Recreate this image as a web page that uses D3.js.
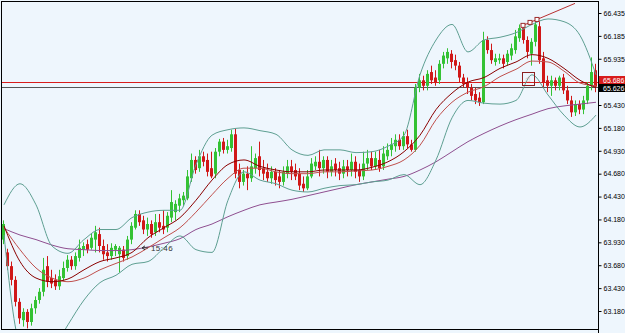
<!DOCTYPE html>
<html>
<head>
<meta charset="utf-8">
<script src="https://cdn.jsdelivr.net/npm/d3@7"></script>
<style>
  html, body { margin: 0; padding: 0; background: #fff; }
  svg { display: block; font-family: "Liberation Sans", Arial, sans-serif; }
</style>
</head>
<body>
<svg id="chart" width="625" height="333"></svg>
<script>
// candles, oldest first: [open, high, low, close]
const bars = [
  [63.96,64.17,63.91,64.13],[63.82,63.86,63.63,63.67],[63.67,63.72,63.46,63.52],[63.52,63.56,63.23,63.28],
  [63.28,63.32,63.04,63.10],[63.08,63.21,63.01,63.17],[63.17,63.20,62.99,63.06],[63.06,63.26,63.02,63.21],
  [63.21,63.34,63.15,63.30],[63.30,63.43,63.26,63.39],[63.39,63.76,63.34,63.63],[63.67,63.78,63.44,63.50],
  [63.54,63.63,63.43,63.48],[63.52,63.58,63.41,63.45],[63.45,63.63,63.41,63.56],[63.54,63.72,63.51,63.65],
  [63.65,63.79,63.61,63.74],[63.74,63.78,63.63,63.67],[63.67,63.82,63.63,63.78],[63.76,63.96,63.72,63.87],
  [63.85,63.93,63.78,63.89],[63.91,63.96,63.81,63.85],[63.87,64.03,63.85,63.98],[63.96,64.11,63.82,64.04],
  [64.02,64.09,63.82,63.89],[63.89,63.96,63.74,63.80],[63.82,63.91,63.72,63.78],[63.78,63.92,63.74,63.87],
  [63.85,63.91,63.78,63.89],[63.80,63.89,63.60,63.87],[63.85,63.89,63.72,63.76],[63.78,64.00,63.74,63.96],
  [63.96,64.15,63.91,64.11],[64.09,64.28,64.07,64.24],[64.24,64.28,64.11,64.15],[64.17,64.22,64.02,64.07],
  [64.07,64.20,64.00,64.13],[64.13,64.17,63.98,64.02],[64.04,64.24,64.00,64.15],[64.15,64.24,64.04,64.09],
  [64.11,64.28,64.02,64.07],[64.09,64.26,64.04,64.22],[64.20,64.50,64.15,64.37],[64.26,64.39,64.17,64.35],
  [64.33,64.46,64.26,64.41],[64.39,64.48,64.33,64.44],[64.41,64.72,64.39,64.65],[64.63,64.90,64.59,64.83],
  [64.83,64.87,64.68,64.72],[64.74,64.94,64.70,64.87],[64.87,64.92,64.76,64.81],[64.83,64.90,64.65,64.70],
  [64.74,64.92,64.63,64.65],[64.68,64.96,64.63,64.92],[64.92,65.06,64.87,65.03],[65.03,65.07,64.90,64.94],
  [64.94,65.05,64.90,64.98],[64.96,65.16,64.92,65.11],[65.11,65.17,64.63,64.68],[64.72,64.79,64.52,64.59],
  [64.59,64.72,64.55,64.68],[64.68,64.76,64.50,64.63],[64.63,64.98,64.59,64.76],[64.74,64.90,64.68,64.85],
  [64.87,65.03,64.65,64.72],[64.74,64.83,64.61,64.68],[64.70,64.79,64.59,64.63],[64.63,64.76,64.57,64.70],
  [64.70,64.74,64.55,64.61],[64.65,64.72,64.52,64.59],[64.59,64.76,64.55,64.70],[64.68,64.83,64.63,64.76],
  [64.76,64.83,64.61,64.70],[64.72,64.79,64.61,64.65],[64.68,64.74,64.50,64.55],[64.57,64.65,64.48,64.52],
  [64.52,64.72,64.50,64.65],[64.65,64.85,64.63,64.79],[64.76,64.87,64.72,64.81],[64.81,64.94,64.65,64.74],
  [64.74,64.87,64.68,64.83],[64.83,64.87,64.63,64.70],[64.70,64.83,64.65,64.76],[64.79,64.85,64.65,64.72],
  [64.74,64.81,64.61,64.68],[64.68,64.83,64.63,64.76],[64.76,64.83,64.65,64.72],[64.72,64.90,64.65,64.81],
  [64.81,64.87,64.63,64.70],[64.72,64.79,64.59,64.65],[64.65,64.92,64.61,64.79],[64.79,64.94,64.72,64.85],
  [64.85,64.92,64.72,64.76],[64.76,64.92,64.72,64.85],[64.83,64.94,64.70,64.74],[64.76,64.98,64.72,64.90],
  [64.87,65.01,64.83,64.94],[64.94,65.07,64.87,65.00],[64.98,65.11,64.92,65.05],[65.05,65.11,64.94,64.98],
  [64.98,65.14,64.94,65.09],[65.09,65.16,64.96,65.00],[65.00,65.05,64.92,64.94],[64.94,65.66,64.92,65.62],
  [65.62,65.77,65.57,65.70],[65.70,65.75,65.59,65.64],[65.64,65.81,65.59,65.77],[65.79,65.86,65.66,65.70],
  [65.73,65.81,65.64,65.68],[65.70,65.92,65.66,65.88],[65.88,66.01,65.83,65.97],[65.94,66.05,65.88,66.01],
  [65.99,66.03,65.83,65.90],[65.92,65.98,65.81,65.86],[65.86,65.90,65.68,65.73],[65.73,65.77,65.62,65.66],
  [65.68,65.73,65.55,65.62],[65.62,65.66,65.48,65.53],[65.55,65.62,65.44,65.48],[65.51,65.57,65.42,65.46],
  [65.46,66.23,65.44,66.14],[66.14,66.18,65.99,66.03],[66.03,66.10,65.88,65.92],[65.90,65.99,65.86,65.94],
  [65.92,65.99,65.88,65.94],[65.94,65.98,65.83,65.88],[65.90,66.03,65.86,65.99],[65.97,66.10,65.92,66.05],
  [66.03,66.25,65.99,66.18],[66.16,66.31,66.12,66.27],[66.27,66.29,66.10,66.14],[66.14,66.18,65.94,66.01],
  [65.99,66.16,65.86,66.12],[66.12,66.36,66.07,66.31],[66.29,66.34,65.88,65.92],[65.94,66.01,65.62,65.68],
  [65.70,65.75,65.57,65.64],[65.64,65.75,65.53,65.70],[65.70,65.73,65.59,65.64],[65.64,65.75,65.59,65.73],
  [65.73,65.77,65.55,65.59],[65.59,65.64,65.44,65.48],[65.48,65.53,65.30,65.35],[65.35,65.48,65.31,65.44],
  [65.44,65.48,65.33,65.38],[65.38,65.53,65.33,65.48],[65.48,65.68,65.44,65.64],[65.64,65.95,65.59,65.79],
  [65.81,65.88,65.57,65.63]
];

// indicator values every 4th bar (bar 0, 4, 8 ... 148)
const sampleStep = 4;
const bandUpper = [64.34,64.57,64.34,63.89,63.81,63.96,64.07,64.07,64.20,64.26,64.28,64.28,64.78,65.10,65.16,65.18,
  65.15,65.11,64.94,64.88,64.94,64.94,64.91,64.92,64.98,65.10,65.76,66.14,66.31,66.01,66.14,66.17,66.22,66.31,66.37,
  66.34,66.19,65.76];
const bandLower = [64.01,62.81,62.64,62.75,63.03,63.30,63.49,63.57,63.69,63.72,63.87,64.00,63.85,63.82,64.39,64.70,
  64.61,64.57,64.50,64.48,64.52,64.55,64.56,64.59,64.61,64.67,64.56,64.83,65.29,65.48,65.45,65.44,65.48,65.76,65.54,
  65.32,65.19,65.32];
const maFast = [64.11,63.72,63.54,63.50,63.53,63.63,63.72,63.76,63.82,63.98,64.09,64.20,64.39,64.61,64.78,64.83,
  64.76,64.72,64.70,64.70,64.72,64.72,64.72,64.75,64.81,64.92,65.10,65.38,65.56,65.68,65.73,65.83,65.90,65.98,65.94,
  65.83,65.70,65.62];
const maSlow = [64.09,63.85,63.65,63.54,63.50,63.54,63.63,63.70,63.77,63.87,63.98,64.09,64.26,64.45,64.63,64.74,
  64.74,64.70,64.68,64.68,64.70,64.70,64.71,64.72,64.76,64.83,64.99,65.27,65.46,65.57,65.63,65.74,65.82,65.91,65.90,
  65.80,65.67,65.64];
const maLong = [64.08,64.01,63.96,63.90,63.86,63.85,63.84,63.84,63.85,63.88,63.92,63.97,64.07,64.13,64.21,64.28,
  64.34,64.37,64.40,64.44,64.48,64.52,64.56,64.59,64.62,64.65,64.72,64.81,64.92,65.03,65.12,65.20,65.27,65.33,65.39,
  65.42,65.44,65.46];

// right axis labels
const priceTicks = [66.435,66.185,65.935,65.430,65.180,64.930,64.680,64.430,64.180,63.930,63.680,63.430,63.180];
const askPrice = 65.686;
const bidPrice = 65.626;

// chart objects: trend line through the last highs, a time label and a signal box
const trendAnchors = [[129.75, 66.30], [142.75, 66.54]];
const trendMarks = [129.75, 131.5, 133.25];
const timeMark = { bar: 35, price: 63.87, text: '15:46' };
const signalBox = { bar: 131, price: 65.72 };

const colors = {
  bg: '#eef6fd', up: '#34c234', down: '#d01818', band: '#5e9f92',
  fast: '#8b0000', slow: '#c0504d', long: '#8f4f90', ask: '#d81c1c', bid: '#555'
};

const W = 625, H = 333;
const plot = { left: 1, top: 2, right: 598, bottom: 329 };

const svg = d3.select('#chart');
svg.append('rect').attr('width', W).attr('height', H).attr('fill', colors.bg);

// scales: one band per bar, price scale fixed by the axis labels
const x = d3.scaleBand().domain(d3.range(bars.length)).range([plot.left + 1, plot.right]).padding(0);
const step = x.step();
const xMid = i => x.range()[0] + (i + 0.5) * step;
const y = d3.scaleLinear().domain([63.18, 66.435]).range([311, 13]);

svg.append('clipPath').attr('id', 'plotClip')
  .append('rect')
    .attr('x', plot.left).attr('y', plot.top)
    .attr('width', plot.right - plot.left).attr('height', plot.bottom - plot.top);

const g = svg.append('g').attr('clip-path', 'url(#plotClip)');

// current price lines
g.append('line')
  .attr('x1', plot.left).attr('x2', plot.right)
  .attr('y1', Math.round(y(askPrice)) + 0.5).attr('y2', Math.round(y(askPrice)) + 0.5)
  .attr('stroke', colors.ask);
g.append('line')
  .attr('x1', plot.left).attr('x2', plot.right)
  .attr('y1', Math.round(y(bidPrice)) + 0.5).attr('y2', Math.round(y(bidPrice)) + 0.5)
  .attr('stroke', colors.bid);

// candles
const candle = g.selectAll('.candle').data(bars).enter().append('g')
  .attr('class', 'candle')
  .attr('fill', d => d[3] >= d[0] ? colors.up : colors.down)
  .attr('stroke', d => d[3] >= d[0] ? colors.up : colors.down);

candle.append('line')
  .attr('x1', (d, i) => Math.floor(x(i)) + 1.5).attr('x2', (d, i) => Math.floor(x(i)) + 1.5)
  .attr('y1', d => y(d[1])).attr('y2', d => y(d[2]));

candle.append('rect')
  .attr('stroke', 'none')
  .attr('x', (d, i) => Math.floor(x(i)))
  .attr('width', 3)
  .attr('y', d => y(Math.max(d[0], d[3])))
  .attr('height', d => Math.max(1, Math.abs(y(d[0]) - y(d[3]))));

// indicator lines
const line = d3.line()
  .x((d, k) => xMid(k * sampleStep))
  .y(d => y(d))
  .curve(d3.curveMonotoneX);

[[maLong, colors.long], [bandUpper, colors.band], [bandLower, colors.band],
 [maSlow, colors.slow], [maFast, colors.fast]].forEach(([values, color]) => {
  g.append('path')
    .attr('d', line(values))
    .attr('fill', 'none')
    .attr('stroke', color)
    .attr('stroke-width', 1);
});

// trend line and its anchor marks
g.append('line')
  .attr('x1', xMid(trendAnchors[0][0])).attr('y1', y(trendAnchors[0][1]))
  .attr('x2', xMid(trendAnchors[1][0])).attr('y2', y(trendAnchors[1][1]))
  .attr('stroke', '#b83030');

const trendAt = i => trendAnchors[0][1] +
  (i - trendAnchors[0][0]) * (trendAnchors[1][1] - trendAnchors[0][1]) / (trendAnchors[1][0] - trendAnchors[0][0]);

g.selectAll('.mark').data(trendMarks).enter().append('rect')
  .attr('class', 'mark')
  .attr('x', d => xMid(d) - 2).attr('y', d => y(trendAt(d)) - 2)
  .attr('width', 4).attr('height', 4)
  .attr('fill', '#fff').attr('stroke', '#9b2a2a');

// signal box
const bx = xMid(signalBox.bar), by = y(signalBox.price);
g.append('rect')
  .attr('x', Math.round(bx - 6) + 0.5).attr('y', Math.round(by - 6) + 0.5)
  .attr('width', 12).attr('height', 13)
  .attr('fill', 'none').attr('stroke', '#8b2020');
g.append('text')
  .attr('x', bx).attr('y', by + 4)
  .attr('text-anchor', 'middle')
  .attr('font-family', 'DejaVu Sans')
  .attr('font-size', 9)
  .attr('fill', '#e88080')
  .text('\u261D');

// time label with left arrow
const tx = x(timeMark.bar), ty = y(timeMark.price);
g.append('path')
  .attr('d', `M${tx},${ty} l3,-2 M${tx},${ty} l3,2 M${tx},${ty} h6`)
  .attr('stroke', '#333').attr('fill', 'none');
g.append('text')
  .attr('x', tx + 9).attr('y', ty + 3)
  .attr('font-size', 8)
  .attr('fill', '#333')
  .attr('letter-spacing', 0.4)
  .text(timeMark.text);

// frame
svg.append('rect')
  .attr('x', plot.left + 0.5).attr('y', plot.top - 0.5)
  .attr('width', plot.right - plot.left).attr('height', plot.bottom - plot.top + 1)
  .attr('fill', 'none').attr('stroke', '#000');

// right price axis
const axis = svg.append('g')
  .attr('transform', `translate(${plot.right + 0.5},0)`)
  .call(d3.axisRight(y).tickValues(priceTicks).tickFormat(d3.format('.3f')).tickSize(3).tickPadding(2));
axis.select('.domain').remove();
axis.selectAll('.tick text').attr('font-size', 7).attr('font-family', '"Liberation Sans", Arial, sans-serif').attr('fill', '#000');
axis.selectAll('.tick line').attr('stroke', '#000');
svg.append('line')
  .attr('x1', plot.right + 0.5).attr('x2', plot.right + 0.5)
  .attr('y1', plot.top - 1).attr('y2', H)
  .attr('stroke', '#000');

// price tags on the axis: ask tag sits just above the bid tag, as the terminal stacks them
const askTop = Math.round(y(askPrice)) - 6;
const bidTop = Math.max(askTop + 8, Math.round(y(bidPrice)) - 4);
[[askPrice, colors.ask, askTop], [bidPrice, '#000', bidTop]].forEach(([p, c, top]) => {
  svg.append('rect')
    .attr('x', plot.right + 1).attr('y', top)
    .attr('width', W - plot.right - 1).attr('height', 8)
    .attr('fill', c);
  svg.append('text')
    .attr('x', plot.right + 5).attr('y', top + 6.5)
    .attr('font-size', 7).attr('fill', '#fff')
    .text(d3.format('.3f')(p));
});
</script>
</body>
</html>
